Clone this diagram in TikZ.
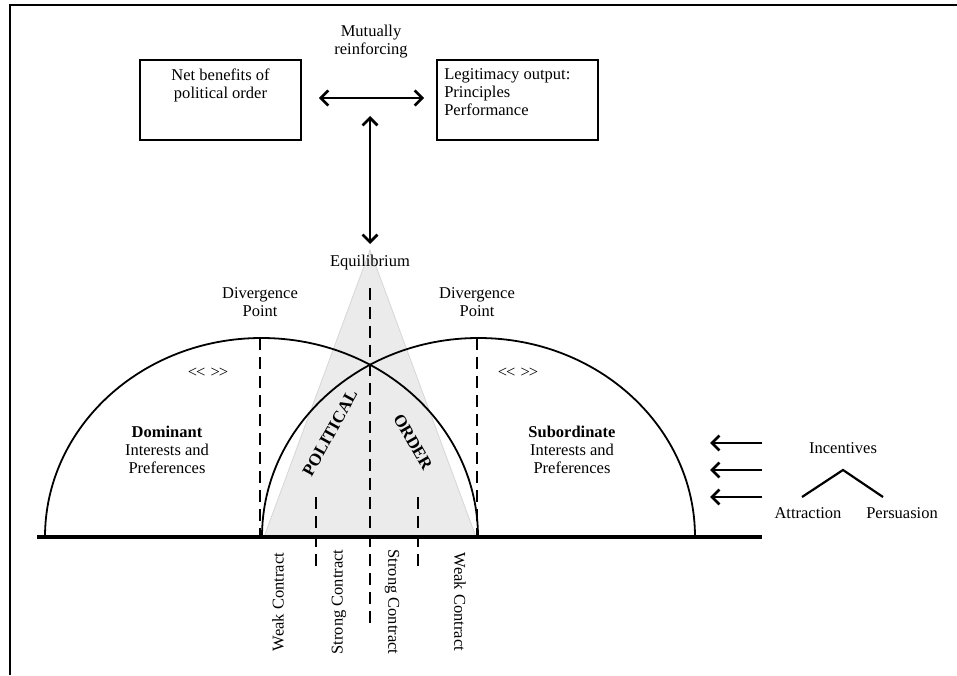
\documentclass[tikz,border=0pt]{standalone}
\usepackage{fontspec}
\setmainfont{Liberation Serif}
\usetikzlibrary{arrows.meta}
\begin{document}
\begin{tikzpicture}[x=1pt,y=1pt,
  every node/.style={font=\fontsize{16.5}{18}\selectfont, inner sep=0pt, align=center},
  box/.style={draw, line width=1.8pt, minimum width=161pt, minimum height=80pt},
  dbl/.style={line width=2.7pt, {Straight Barb[length=7.5pt,width=15pt]}-{Straight Barb[length=7.5pt,width=15pt]}},
  sgl/.style={line width=2.7pt, -{Straight Barb[length=7.5pt,width=15pt]}},
  dashline/.style={line width=2.8pt, dash pattern=on 12pt off 7pt},
  arcline/.style={line width=1.8pt},
  upl/.style={rotate=90},
  dnl/.style={rotate=-90}
]
\useasboundingbox (0,0) rectangle (957,675);
% frame
\draw[line width=1.3pt] (10,0) -- (10,670) -- (957,670);

% top boxes
\node[box] (nb) at (220.5,575) {};
\node[anchor=north] (nbt) at ([yshift=-9.5pt]nb.north) {Net benefits of\\political order};
\node[box] (lo) at (517.5,575) {};
\node[anchor=north west, align=left] (lot) at ([xshift=8pt,yshift=-9.5pt]lo.north west) {Legitimacy output:\\Principles\\Performance};
\node (mr) at (371,633) {Mutually\\reinforcing};
\draw[dbl] ([xshift=17pt,yshift=2pt]nb.east) -- ([xshift=-12pt,yshift=2pt]lo.west);

% gray triangle
\fill[gray!16] (370,425) -- (264,138) -- (476,138) -- cycle;
\draw[gray!32, line width=0.8pt] (264,138) -- (370,425) -- (476,138);

% equilibrium
\node (eq) at (370,412) {Equilibrium};
\coordinate (vtop) at (370,559);
\coordinate (vbot) at (370,431);
\draw[dbl] (vtop) -- (vbot);

% half ellipses
\draw[arcline] (45,138) arc[start angle=180, end angle=0, x radius=216.5pt, y radius=199pt];
\draw[arcline] (262,138) arc[start angle=180, end angle=0, x radius=216.5pt, y radius=199pt];

% ground
\draw[line width=3.2pt] (37,138) -- (762,138);

% divergence points
\node (dl) at (260,373) {Divergence\\Point};
\node (dr) at (477,373) {Divergence\\Point};
\coordinate (dlt) at (260,337);
\coordinate (dlb) at (260,138);
\coordinate (drt) at (477,337);
\coordinate (drb) at (477,138);
\draw[dashline] (dlt) -- (dlb);
\draw[dashline] (drt) -- (drb);

% central and strong contract dashed lines
\coordinate (ct) at (370,387);
\coordinate (cb) at (370,47);
\draw[dashline] (ct) -- (cb);
\coordinate (slt) at (316,178);
\coordinate (slb) at (316,107);
\coordinate (srt) at (418,178);
\coordinate (srb) at (418,107);
\draw[dashline] (slt) -- (slb);
\draw[dashline] (srt) -- (srb);

% << >>
\node (al) at (208,302) {<\kern-1pt< \kern1pt>\kern-1pt>};
\node (ar) at (518,302) {<\kern-1pt< \kern1pt>\kern-1pt>};

% side labels
\node (dom) at (167,225) {\textbf{Dominant}\\Interests and\\Preferences};
\node (sub) at (572,225) {\textbf{Subordinate}\\Interests and\\Preferences};

% political order
\node[rotate=61, font=\fontsize{17}{18}\selectfont\bfseries] (pol) at (330,242) {POLITICAL};
\node[rotate=-60, font=\fontsize{17}{18}\selectfont\bfseries] (ord) at (413,233) {ORDER};

% bottom labels
\node[upl] (wl) at (278,73) {Weak Contract};
\node[upl] (sl) at (339,73) {Strong Contract};
\node[dnl] (sr) at (392,73) {Strong Contract};
\node[dnl] (wr) at (460,73) {Weak Contract};

% incentives
\node (inc) at (843,227) {Incentives};
\node (att) at (808,162) {Attraction};
\node (per) at (902,162) {Persuasion};
\coordinate (a1s) at (762,232);
\coordinate (a1e) at (710,232);
\coordinate (a2s) at (762,205);
\coordinate (a2e) at (710,205);
\coordinate (a3s) at (762,178);
\coordinate (a3e) at (710,178);
\draw[sgl] (a1s) -- (a1e);
\draw[sgl] (a2s) -- (a2e);
\draw[sgl] (a3s) -- (a3e);
\coordinate (pk) at (843,205);
\coordinate (pl) at (802,178);
\coordinate (pr) at (883,178);
\draw[line width=2.2pt] (pl) -- (pk) -- (pr);
\end{tikzpicture}
\end{document}
